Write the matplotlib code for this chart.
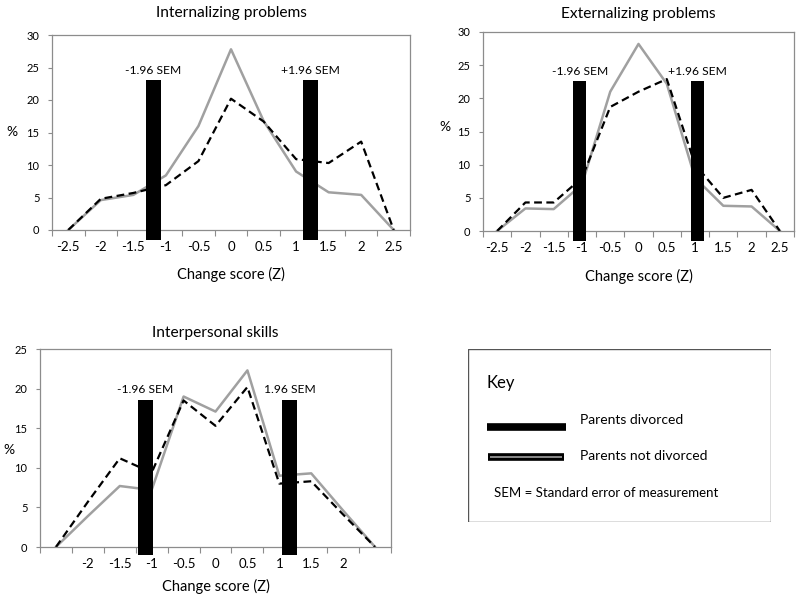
import matplotlib
matplotlib.use("Agg")
import matplotlib.pyplot as plt
from matplotlib.patches import Rectangle

plt.rcParams['font.family'] = ['Lato', 'DejaVu Sans']

z = [-2.5, -2, -1.5, -1, -0.5, 0, 0.5, 1, 1.5, 2, 2.5]
z_labels = ['-2.5', '-2', '-1.5', '-1', '-0.5', '0', '0.5', '1', '1.5', '2', '2.5']
z_labels_ips = ['', '-2', '-1.5', '-1', '-0.5', '0', '0.5', '1', '1.5', '2', '']

# internalizing
int_not = [0, 4.6, 5.4, 8.4, 16.0, 27.8, 16.8, 9.0, 5.8, 5.4, 0]
int_div = [0, 4.8, 5.7, 6.9, 10.6, 20.2, 16.7, 10.9, 10.3, 13.6, 0]
int_sem = [-1.19, 1.22]
int_sem_labels = ['-1.96 SEM', '+1.96 SEM']

# externalizing
ext_not = [0, 3.4, 3.3, 7.0, 21.0, 28.2, 22.2, 8.0, 3.8, 3.7, 0]
ext_div = [0, 4.3, 4.3, 8.0, 18.7, 21.0, 22.9, 10.0, 5.0, 6.2, 0]
ext_sem = [-1.04, 1.04]
ext_sem_labels = ['-1.96 SEM', '+1.96 SEM']

# interpersonal
ips_not = [0, 3.9, 7.7, 7.2, 19.0, 17.1, 22.3, 9.0, 9.3, 4.6, 0]
ips_div = [0, 5.7, 11.2, 9.4, 18.5, 15.3, 20.2, 8.0, 8.3, 4.1, 0]
ips_sem = [-1.1, 1.16]
ips_sem_labels = ['-1.96 SEM', '1.96 SEM']

GRAY = '#a0a0a0'
SPINE = '#8c8c8c'


def draw_panel(ax, title, not_div, div, sem, sem_labels, ymax, bar_top, bar_bottom, xlabels,
               title_pad, xlab_pad, pct_xy):
    ax.plot(z, not_div, color=GRAY, lw=1.8, zorder=2)
    ax.plot(z, div, color='black', lw=1.6, dashes=(3.5, 2), zorder=2)
    for c, lab in zip(sem, sem_labels):
        ax.bar(c, bar_top - bar_bottom, bottom=bar_bottom, width=0.24, color='black',
               clip_on=False, zorder=3)
        ax.text(c, bar_top + 0.6, lab, ha='center', va='bottom', fontsize=8.7)
    ax.set_xlim(-2.75, 2.75)
    ax.set_ylim(0, ymax)
    ax.set_xticks(z)
    ax.set_xticklabels(xlabels, fontsize=9.5)
    ax.set_xticks([-2.75 + 0.5 * i for i in range(12)], minor=True)
    ax.tick_params(axis='x', which='major', length=0, pad=8)
    ax.tick_params(axis='x', which='minor', length=4, color=SPINE, width=0.8)
    ax.set_yticks(range(0, ymax + 1, 5))
    ax.tick_params(axis='y', labelsize=8, length=3, color=SPINE, width=0.8, pad=6)
    for s in ax.spines.values():
        s.set_color(SPINE)
        s.set_linewidth(0.9)
    ax.set_title(title, fontsize=11.2, pad=title_pad)
    ax.set_xlabel('Change score (Z)', fontsize=10.5, labelpad=xlab_pad)
    ax.set_ylabel('%', rotation=0, fontsize=10)
    ax.yaxis.set_label_coords(*pct_xy)


fig = plt.figure(figsize=(8, 5.97), dpi=100)

ax1 = fig.add_axes([52 / 800, 1 - 230 / 597, 358 / 800, 195 / 597])
draw_panel(ax1, 'Internalizing problems', int_not, int_div, int_sem, int_sem_labels,
           30, 23.1, -1.5, z_labels, 13, 10, (-0.112, 0.47))

ax2 = fig.add_axes([483 / 800, 1 - 231 / 597, 311 / 800, 199 / 597])
draw_panel(ax2, 'Externalizing problems', ext_not, ext_div, ext_sem, ext_sem_labels,
           30, 22.6, -1.5, z_labels, 10, 11, (-0.122, 0.49))

ax3 = fig.add_axes([40 / 800, 1 - 547 / 597, 351 / 800, 198 / 597])
draw_panel(ax3, 'Interpersonal skills', ips_not, ips_div, ips_sem, ips_sem_labels,
           25, 18.6, -1.05, z_labels_ips, 9, 6, (-0.088, 0.46))

# key box
kx = fig.add_axes([468 / 800, 1 - 522 / 597, 303 / 800, 173 / 597])
kx.set_xlim(0, 303)
kx.set_ylim(173, 0)
kx.axis('off')
kx.add_patch(Rectangle((0, 0), 303, 173, fill=False, edgecolor='#555555', lw=1.0))
kx.text(19, 34, 'Key', fontsize=12, va='center')
kx.plot([19, 98], [78, 78], color='black', lw=5.5, solid_capstyle='butt')
kx.text(112, 71, 'Parents divorced', fontsize=10, va='center')
kx.plot([20, 96], [108, 108], color='black', lw=5.5, solid_capstyle='butt')
kx.plot([22, 94], [108, 108], color=GRAY, lw=1.2, solid_capstyle='butt')
kx.text(112, 107, 'Parents not divorced', fontsize=10, va='center')
kx.text(26, 144, 'SEM = Standard error of measurement', fontsize=9.5, va='center')

fig.savefig('out.png', dpi=100)
